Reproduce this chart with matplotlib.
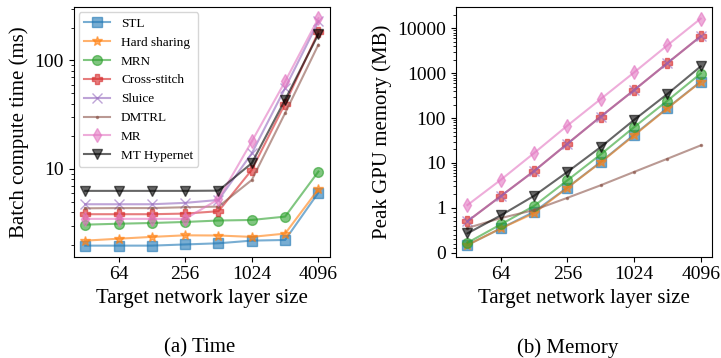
import matplotlib
matplotlib.use("Agg")
import matplotlib.pyplot as plt
from matplotlib.ticker import FuncFormatter, NullLocator, FixedLocator

plt.rcParams['font.family'] = ['Liberation Serif', 'DejaVu Serif']

sizes = [32, 64, 128, 256, 512, 1024, 2048, 4096]
methods = ['STL', 'Hard sharing', 'MRN', 'Cross-stitch', 'Sluice', 'DMTRL', 'MR', 'MT Hypernet']
markers = ['s', '*', 'o', 'P', 'x', '.', 'd', 'v']
colors = ['C0', 'C1', 'C2', 'C3', 'C4', 'C5', 'C6', 'k']

# batch compute time (ms)
time_stl = [1.96, 1.96, 1.96, 2.01, 2.06, 2.18, 2.21, 6.05]
time_hs = [2.18, 2.27, 2.36, 2.44, 2.43, 2.36, 2.53, 6.5]
time_mrn = [3.06, 3.12, 3.17, 3.24, 3.34, 3.38, 3.63, 9.45]
time_cross = [3.82, 3.82, 3.82, 3.87, 4.07, 9.8, 40, 183]
time_sluice = [4.72, 4.72, 4.72, 4.86, 5.17, 13.9, 55.6, 229]
time_dmtrl = [4.33, 4.35, 4.35, 4.43, 4.49, 7.9, 32.7, 140]
time_mr = [3.46, 3.46, 3.46, 3.46, 5.25, 17.9, 64, 245]
time_hyper = [6.27, 6.27, 6.27, 6.27, 6.3, 11.3, 43.4, 175]

# peak GPU memory (MB)
mem_stl = [0.17, 0.54, 0.91, 2.83, 10.5, 42.4, 168, 650]
mem_hs = [0.17, 0.54, 0.88, 2.8, 10.3, 41, 165, 640]
mem_mrn = [0.22, 0.63, 1.1, 4.1, 15.5, 62.7, 244, 985]
mem_cross = [0.70, 1.82, 6.6, 26.8, 108, 420, 1680, 6660]
mem_sluice = [0.70, 1.82, 6.6, 26.8, 108, 420, 1680, 6660]
mem_dmtrl = [0.55, 0.77, 0.95, 1.67, 3.18, 6.3, 12.4, 24.6]
mem_mr = [1.15, 4.2, 16.6, 68, 266, 1040, 4190, 16500]
mem_hyper = [0.43, 0.83, 1.85, 6.3, 22.6, 91, 344, 1420]

times = [time_stl, time_hs, time_mrn, time_cross, time_sluice, time_dmtrl, time_mr, time_hyper]
mems = [mem_stl, mem_hs, mem_mrn, mem_cross, mem_sluice, mem_dmtrl, mem_mr, mem_hyper]

fig, (ax1, ax2) = plt.subplots(1, 2, figsize=(7.21, 3.58), dpi=100)
fig.subplots_adjust(left=0.102, right=0.988, bottom=0.283, top=0.98, wspace=0.49)

for i in range(len(methods)):
    ms = 3 if markers[i] == '.' else 7
    ax1.plot(sizes, times[i], marker=markers[i], color=colors[i], alpha=0.6,
             markersize=ms, label=methods[i])
    ax2.plot(sizes, mems[i], marker=markers[i], color=colors[i], alpha=0.6,
             markersize=ms, label=methods[i])

plain = FuncFormatter(lambda v, p: '%g' % v)
blank = FuncFormatter(lambda v, p: '')

for ax in (ax1, ax2):
    ax.set_xscale('log', base=2)
    ax.xaxis.set_major_locator(FixedLocator([64, 256, 1024, 4096]))
    ax.xaxis.set_minor_locator(NullLocator())
    ax.xaxis.set_major_formatter(plain)
    ax.set_xlabel('Target network layer size', fontsize=15)
    ax.tick_params(labelsize=14)

ax1.set_yscale('log')
ax1.set_ylim(1.55, 310)
ax1.yaxis.set_major_formatter(plain)
ax1.yaxis.set_minor_formatter(blank)
ax1.set_ylabel('Batch compute time (ms)', fontsize=15)
ax1.legend(loc='upper left', fontsize=9.5, borderaxespad=0.4)

ax2.set_yscale('symlog', linthresh=1, linscale=0.9)
ax2.set_ylim(-0.09, 29700)
ax2.yaxis.set_major_locator(FixedLocator([0, 1, 10, 100, 1000, 10000]))
minors = [k * 0.1 for k in range(1, 10)]
for d in [1, 10, 100, 1000, 10000]:
    minors += [k * d for k in range(2, 10)]
ax2.yaxis.set_minor_locator(FixedLocator([m for m in minors if m < 29700]))
ax2.yaxis.set_major_formatter(plain)
ax2.yaxis.set_minor_formatter(blank)
ax2.set_ylabel('Peak GPU memory (MB)', fontsize=15)

fig.text(200 / 721, 1 - 348 / 358, '(a) Time', fontsize=15, ha='center', va='center')
fig.text(568 / 721, 1 - 348 / 358, '(b) Memory', fontsize=15, ha='center', va='center')

fig.savefig('out.png', dpi=100)
